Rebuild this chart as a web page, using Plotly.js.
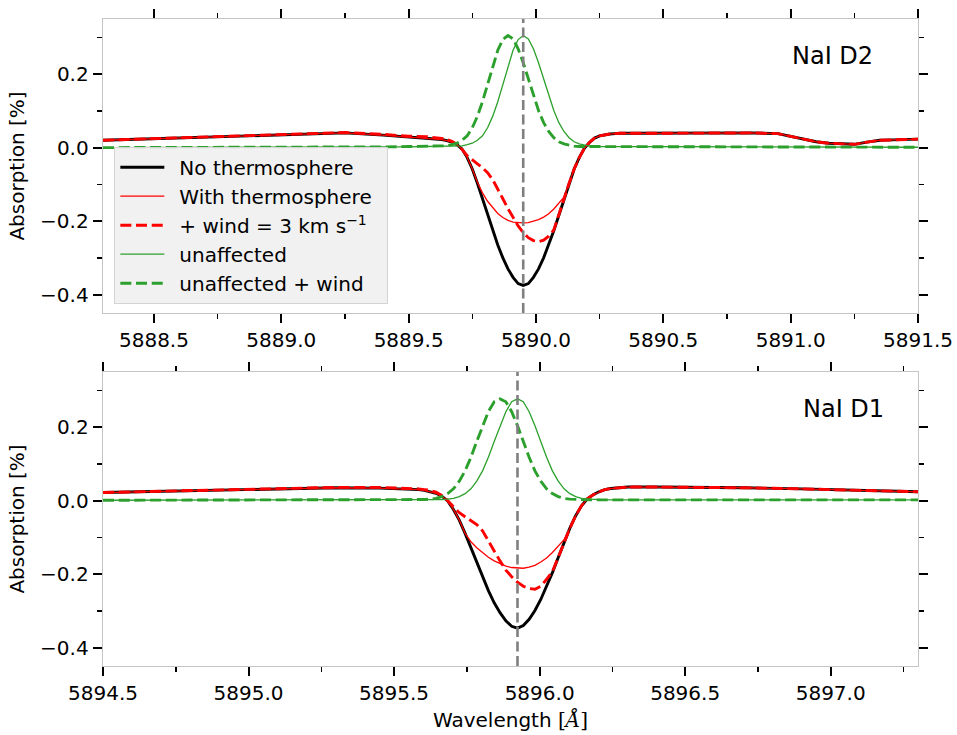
<!DOCTYPE html>
<html>
<head>
<meta charset="utf-8">
<script src="https://cdn.plot.ly/plotly-3.0.1.min.js"></script>
<style>html,body{margin:0;padding:0;background:#fff;}#chart{width:957px;height:735px;}</style>
</head>
<body>
<div id="chart"></div>
<script>
// ---------- data ----------
const seriesNames = ["No thermosphere", "With thermosphere", "+ wind = 3 km s<sup>\u22121</sup>", "unaffected", "unaffected + wind"];
const panelLabels = ["NaI D2", "NaI D1"];
const lineCenters = [5889.95, 5895.924];

// NaI D2 panel
const waveD2 = [5888.30, 5888.50, 5888.70, 5888.90, 5889.10, 5889.25, 5889.40, 5889.50,
  5889.57, 5889.59, 5889.61, 5889.63, 5889.65, 5889.67, 5889.69, 5889.71, 5889.73, 5889.75,
  5889.77, 5889.79, 5889.81, 5889.83, 5889.85, 5889.87, 5889.89, 5889.91, 5889.93, 5889.95,
  5889.97, 5889.99, 5890.01, 5890.03, 5890.05, 5890.07, 5890.09, 5890.11, 5890.13, 5890.15,
  5890.17, 5890.19, 5890.21, 5890.23, 5890.25, 5890.27, 5890.29, 5890.31, 5890.33,
  5890.40, 5890.55, 5890.70, 5890.85, 5890.95, 5891.00, 5891.05, 5891.10, 5891.15, 5891.20,
  5891.25, 5891.30, 5891.35, 5891.40, 5891.50];
const noThermoD2 = [0.020, 0.024, 0.028, 0.033, 0.038, 0.040, 0.034, 0.029,
  0.027, 0.026, 0.024, 0.022, 0.019, 0.015, 0.008, -0.004, -0.027, -0.058,
  -0.097, -0.140, -0.184, -0.226, -0.265, -0.300, -0.330, -0.353, -0.370, -0.375,
  -0.370, -0.353, -0.330, -0.300, -0.265, -0.226, -0.184, -0.140, -0.097, -0.058,
  -0.027, -0.002, 0.014, 0.026, 0.032, 0.035, 0.037, 0.038, 0.039,
  0.039, 0.040, 0.040, 0.040, 0.038, 0.031, 0.022, 0.016, 0.012, 0.010,
  0.009, 0.015, 0.020, 0.021, 0.023];
const withThermoD2 = [0.020, 0.024, 0.028, 0.033, 0.038, 0.040, 0.034, 0.029,
  0.027, 0.026, 0.024, 0.022, 0.019, 0.015, 0.008, -0.004, -0.027, -0.058,
  -0.094, -0.123, -0.146, -0.164, -0.179, -0.190, -0.198, -0.203, -0.205, -0.205,
  -0.204, -0.201, -0.196, -0.189, -0.180, -0.167, -0.152, -0.135, -0.097, -0.058,
  -0.027, -0.002, 0.014, 0.026, 0.032, 0.035, 0.037, 0.038, 0.039,
  0.039, 0.040, 0.040, 0.040, 0.038, 0.031, 0.022, 0.016, 0.012, 0.010,
  0.009, 0.015, 0.020, 0.021, 0.023];
const windD2 = [0.020, 0.024, 0.028, 0.033, 0.038, 0.041, 0.036, 0.031,
  0.030, 0.029, 0.027, 0.025, 0.022, 0.017, 0.009, -0.005, -0.022, -0.034,
  -0.044, -0.055, -0.068, -0.087, -0.111, -0.139, -0.166, -0.191, -0.213, -0.231,
  -0.245, -0.253, -0.256, -0.252, -0.241, -0.224, -0.184, -0.140, -0.097, -0.058,
  -0.027, -0.002, 0.014, 0.026, 0.032, 0.035, 0.037, 0.038, 0.039,
  0.039, 0.040, 0.040, 0.040, 0.038, 0.031, 0.022, 0.016, 0.012, 0.010,
  0.009, 0.015, 0.020, 0.021, 0.023];
const unaffD2 = [0.000, 0.000, 0.001, 0.001, 0.001, 0.002, 0.002, 0.002,
  0.003, 0.003, 0.003, 0.004, 0.004, 0.004, 0.005, 0.005, 0.008, 0.012,
  0.020, 0.032, 0.054, 0.085, 0.125, 0.172, 0.222, 0.265, 0.294, 0.305,
  0.296, 0.269, 0.231, 0.186, 0.141, 0.101, 0.068, 0.044, 0.027, 0.016,
  0.010, 0.006, 0.004, 0.003, 0.003, 0.002, 0.002, 0.002, 0.002,
  0.002, 0.002, 0.001, 0.001, 0.001, 0.001, 0.001, 0.001, 0.001, 0.001,
  0.001, 0.001, 0.001, 0.001, 0.001];
const unaffWindD2 = [0.000, 0.000, 0.001, 0.001, 0.001, 0.002, 0.002, 0.003,
  0.004, 0.004, 0.004, 0.005, 0.005, 0.008, 0.012, 0.020, 0.032, 0.054,
  0.085, 0.125, 0.172, 0.222, 0.265, 0.294, 0.305, 0.296, 0.269, 0.231,
  0.186, 0.141, 0.101, 0.068, 0.044, 0.027, 0.016, 0.010, 0.006, 0.004,
  0.003, 0.003, 0.002, 0.002, 0.002, 0.002, 0.002, 0.002, 0.002,
  0.002, 0.002, 0.001, 0.001, 0.001, 0.001, 0.001, 0.001, 0.001, 0.001,
  0.001, 0.001, 0.001, 0.001, 0.001];

// NaI D1 panel
const waveD1 = [5894.50, 5894.70, 5894.90, 5895.10, 5895.30, 5895.45,
  5895.544, 5895.564, 5895.584, 5895.604, 5895.624, 5895.644, 5895.664, 5895.684, 5895.704, 5895.724,
  5895.744, 5895.764, 5895.784, 5895.804, 5895.824, 5895.844, 5895.864, 5895.884, 5895.904, 5895.924,
  5895.944, 5895.964, 5895.984, 5896.004, 5896.024, 5896.044, 5896.064, 5896.084, 5896.104, 5896.124,
  5896.144, 5896.164, 5896.184, 5896.204, 5896.224, 5896.244, 5896.264, 5896.284, 5896.304,
  5896.40, 5896.55, 5896.70, 5896.90, 5897.10, 5897.30];
const noThermoD1 = [0.022, 0.025, 0.028, 0.032, 0.035, 0.034,
  0.032, 0.031, 0.030, 0.028, 0.025, 0.020, 0.012, -0.001, -0.024, -0.053,
  -0.089, -0.129, -0.170, -0.209, -0.245, -0.278, -0.305, -0.327, -0.342, -0.347,
  -0.340, -0.323, -0.299, -0.269, -0.234, -0.196, -0.155, -0.114, -0.075, -0.041,
  -0.014, 0.005, 0.016, 0.024, 0.030, 0.033, 0.035, 0.036, 0.037,
  0.037, 0.037, 0.035, 0.032, 0.028, 0.024];
const withThermoD1 = [0.022, 0.025, 0.028, 0.032, 0.035, 0.034,
  0.032, 0.031, 0.030, 0.028, 0.025, 0.020, 0.012, -0.001, -0.024, -0.053,
  -0.089, -0.112, -0.128, -0.142, -0.154, -0.164, -0.172, -0.178, -0.182, -0.184,
  -0.184, -0.181, -0.176, -0.167, -0.156, -0.141, -0.124, -0.106, -0.075, -0.041,
  -0.014, 0.005, 0.016, 0.024, 0.030, 0.033, 0.035, 0.036, 0.037,
  0.037, 0.037, 0.035, 0.032, 0.028, 0.024];
const windD1 = [0.022, 0.025, 0.028, 0.032, 0.036, 0.036,
  0.034, 0.033, 0.032, 0.030, 0.028, 0.023, 0.014, 0.000, -0.018, -0.033,
  -0.044, -0.054, -0.065, -0.082, -0.108, -0.137, -0.164, -0.189, -0.207, -0.222,
  -0.233, -0.239, -0.241, -0.233, -0.214, -0.193, -0.155, -0.114, -0.075, -0.041,
  -0.014, 0.005, 0.016, 0.024, 0.030, 0.033, 0.035, 0.036, 0.037,
  0.037, 0.037, 0.035, 0.032, 0.028, 0.024];
const unaffD1 = [0.001, 0.001, 0.002, 0.002, 0.002, 0.002,
  0.002, 0.002, 0.002, 0.002, 0.002, 0.002, 0.003, 0.004, 0.006, 0.011,
  0.019, 0.032, 0.053, 0.081, 0.118, 0.161, 0.204, 0.242, 0.269, 0.277,
  0.269, 0.242, 0.204, 0.161, 0.118, 0.081, 0.053, 0.032, 0.019, 0.011,
  0.006, 0.004, 0.003, 0.002, 0.002, 0.002, 0.002, 0.002, 0.002,
  0.002, 0.002, 0.002, 0.002, 0.002, 0.002];
const unaffWindD1 = [0.001, 0.001, 0.002, 0.002, 0.002, 0.002,
  0.002, 0.002, 0.002, 0.003, 0.004, 0.006, 0.011, 0.019, 0.032, 0.053,
  0.081, 0.118, 0.161, 0.204, 0.242, 0.269, 0.277, 0.269, 0.242, 0.204,
  0.161, 0.118, 0.081, 0.053, 0.032, 0.019, 0.011, 0.006, 0.004, 0.003,
  0.002, 0.002, 0.002, 0.002, 0.002, 0.002, 0.002, 0.002, 0.002,
  0.002, 0.002, 0.002, 0.002, 0.002, 0.002];

// ---------- styles ----------
const styles = [
  {color: '#000000', width: 2.9, dash: 'solid'},
  {color: '#ff0000', width: 1.3, dash: 'solid'},
  {color: '#ff0000', width: 2.9, dash: '11px,4.7px'},
  {color: '#2ca02c', width: 1.3, dash: 'solid'},
  {color: '#2ca02c', width: 2.9, dash: '11px,4.7px'}
];

function makeTraces(wave, ys, xa, ya, legend) {
  return ys.map((y, i) => ({
    type: 'scatter', mode: 'lines', x: wave, y: y,
    xaxis: xa, yaxis: ya, name: '\u2002' + seriesNames[i] + '\u2002', showlegend: legend,
    line: {color: styles[i].color, width: styles[i].width, dash: styles[i].dash},
    hoverinfo: 'skip'
  }));
}

const traces = [].concat(
  makeTraces(waveD2, [noThermoD2, withThermoD2, windD2, unaffD2, unaffWindD2], 'x', 'y', true),
  makeTraces(waveD1, [noThermoD1, withThermoD1, windD1, unaffD1, unaffWindD1], 'x2', 'y2', false)
);

const frame = '#c4c4c4';
function xAxis(range, extra) {
  return Object.assign({
    range: range, dtick: 0.5, tick0: 0, tickformat: '.1f',
    showgrid: false, zeroline: false,
    showline: true, linecolor: frame, linewidth: 1.3, mirror: 'allticks',
    ticks: 'outside', ticklen: 9, tickwidth: 2, tickcolor: '#000',
    minor: {dtick: 0.25, tick0: 0, ticks: 'outside', ticklen: 4.5, tickwidth: 1.5, tickcolor: '#000', showgrid: false},
    tickfont: {size: 20, color: '#000'}
  }, extra);
}
function yAxis(domain, extra) {
  return Object.assign({
    domain: domain, range: [-0.45, 0.35], dtick: 0.2, tick0: 0, tickformat: '.1f',
    showgrid: false, zeroline: false,
    showline: true, linecolor: frame, linewidth: 1.3, mirror: 'allticks',
    ticks: 'outside', ticklen: 9, tickwidth: 2, tickcolor: '#000',
    minor: {dtick: 0.1, tick0: 0, ticks: 'outside', ticklen: 4.5, tickwidth: 1.5, tickcolor: '#000', showgrid: false},
    tickfont: {size: 20, color: '#000'},
    title: {text: 'Absorption [%]', font: {size: 20, color: '#000'}, standoff: 10}
  }, extra);
}

const layout = {
  width: 957, height: 735,
  margin: {l: 103, r: 39, t: 19, b: 69},
  paper_bgcolor: '#ffffff', plot_bgcolor: '#ffffff',
  font: {family: 'DejaVu Sans', size: 20, color: '#000'},
  showlegend: true,
  xaxis: xAxis([5888.3, 5891.5], {anchor: 'y'}),
  yaxis: yAxis([0.5456, 1], {anchor: 'x'}),
  xaxis2: xAxis([5894.5, 5897.3], {anchor: 'y2',
    title: {text: 'Wavelength <span style="font-family:\'DejaVu Serif\'">[<i>Å</i>]</span>', font: {size: 20, color: '#000'}, standoff: 8}}),
  yaxis2: yAxis([0, 0.4544], {anchor: 'x2'}),
  legend: {
    x: 0.0139, y: 0.8026, xanchor: 'left', yanchor: 'top',
    bgcolor: 'rgba(240,240,240,0.92)', bordercolor: '#d4d4d4', borderwidth: 1,
    font: {size: 20, color: '#000'}, itemwidth: 44, tracegroupgap: 0
  },
  shapes: [
    {type: 'line', xref: 'x', yref: 'y domain', x0: lineCenters[0], x1: lineCenters[0], y0: 0, y1: 1,
     line: {color: '#808080', width: 2.6, dash: '10px,4.5px'}, layer: 'above'},
    {type: 'line', xref: 'x2', yref: 'y2 domain', x0: lineCenters[1], x1: lineCenters[1], y0: 0, y1: 1,
     line: {color: '#808080', width: 2.6, dash: '10px,4.5px'}, layer: 'above'}
  ],
  annotations: [
    {text: panelLabels[0], xref: 'x domain', yref: 'y domain', x: 0.895, y: 0.875,
     xanchor: 'center', yanchor: 'middle', showarrow: false, font: {size: 24, color: '#000'}},
    {text: panelLabels[1], xref: 'x2 domain', yref: 'y2 domain', x: 0.908, y: 0.874,
     xanchor: 'center', yanchor: 'middle', showarrow: false, font: {size: 24, color: '#000'}}
  ]
};

Plotly.newPlot('chart', traces, layout, {displayModeBar: false, staticPlot: true});
</script>
</body>
</html>
